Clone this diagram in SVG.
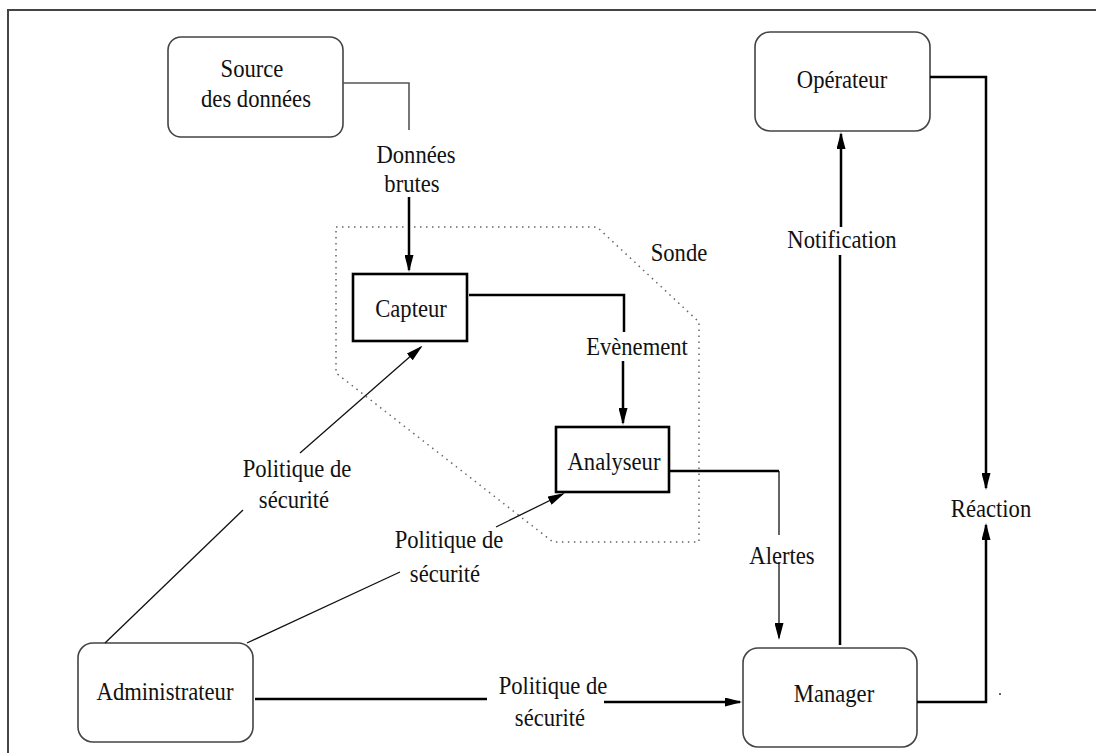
<svg xmlns="http://www.w3.org/2000/svg" width="1096" height="753" viewBox="0 0 1096 753">
<style>
.t{font-family:'Liberation Serif','Tinos','DejaVu Serif','Noto Serif',serif;font-size:26px;fill:#111;text-anchor:middle}
.rb{fill:#fff;stroke:#444;stroke-width:1.6}
.sb{fill:#fff;stroke:#000;stroke-width:2.6}
.k{fill:none;stroke:#000;stroke-width:2.5}
.n{fill:none;stroke:#111;stroke-width:1.3}
.g{fill:none;stroke:#555;stroke-width:1.6}
.a{marker-end:url(#ah)}
</style>
<defs>
<marker id="ah" viewBox="0 0 17 9" refX="15" refY="4.5" markerWidth="17" markerHeight="9" markerUnits="userSpaceOnUse" orient="auto">
<path d="M0,0 L17,4.5 L0,9 z" fill="#000"/>
</marker>
</defs>
<rect width="1096" height="753" fill="#fff"/>
<path d="M8,753 L8,10 L1096,10" fill="none" stroke="#444" stroke-width="2"/>

<g id="sonde">
<polygon points="336,227 597,227 699,322 699,542 553,542 336,373" fill="none" stroke="#666" stroke-width="1.5" stroke-dasharray="1.5 4.5"/>
<text class="t" font-family="Liberation Serif, serif" transform="translate(679,261) scale(0.87,1)">Sonde</text>
</g>

<g id="source">
<rect class="rb" x="168" y="37" width="175" height="100" rx="13"/>
<text class="t" transform="translate(252,77) scale(0.87,1)">Source</text>
<text class="t" transform="translate(256,107) scale(0.87,1)">des données</text>
</g>

<g id="operateur">
<rect class="rb" x="755" y="32" width="175" height="99" rx="15"/>
<text class="t" transform="translate(842,88) scale(0.87,1)">Opérateur</text>
</g>

<g id="capteur">
<rect class="sb" x="353" y="274" width="114" height="67"/>
<text class="t" transform="translate(411,317) scale(0.87,1)">Capteur</text>
</g>

<g id="analyseur">
<rect class="sb" x="556" y="427" width="113" height="65"/>
<text class="t" transform="translate(614,470) scale(0.87,1)">Analyseur</text>
</g>

<g id="administrateur">
<rect class="rb" x="78" y="643" width="175" height="99" rx="15"/>
<text class="t" transform="translate(165,700) scale(0.87,1)">Administrateur</text>
</g>

<g id="manager">
<rect class="rb" x="743" y="648" width="174" height="99" rx="15"/>
<text class="t" transform="translate(834,702) scale(0.87,1)">Manager</text>
</g>

<g id="connectors">
<path class="g" d="M343,83 L409,83 L409,130"/>
<path class="k a" d="M409,197 L409,270"/>
<text class="t" transform="translate(416,163) scale(0.87,1)">Données</text>
<text class="t" transform="translate(412,192) scale(0.87,1)">brutes</text>

<path class="k" d="M469,295 L624,295 L624,332"/>
<path class="k a" d="M623,361 L623,423"/>
<text class="t" transform="translate(637,355) scale(0.87,1)">Evènement</text>

<path class="k" d="M670,471 L779,471"/>
<path class="n" d="M779,471 L779,535"/>
<path class="n a" d="M779,562 L779,638"/>
<text class="t" transform="translate(782,564) scale(0.87,1)">Alertes</text>

<path class="n" d="M105,643 L243,510"/>
<path class="n a" d="M300,453 L421,347"/>
<text class="t" transform="translate(297,477) scale(0.87,1)">Politique de</text>
<text class="t" transform="translate(294,508) scale(0.87,1)">sécurité</text>

<path class="n" d="M247,643 L400,572"/>
<path class="n a" d="M496,527 L563,494"/>
<text class="t" transform="translate(449,548) scale(0.87,1)">Politique de</text>
<text class="t" transform="translate(445,582) scale(0.87,1)">sécurité</text>

<path class="k" d="M255,699 L487,699"/>
<path class="k a" d="M604,702 L740,702"/>
<text class="t" transform="translate(553,694) scale(0.87,1)">Politique de</text>
<text class="t" transform="translate(550,726) scale(0.87,1)">sécurité</text>

<path class="k" d="M840,645 L840,255"/>
<path class="k a" d="M841,227 L841,134"/>
<text class="t" transform="translate(842,248) scale(0.87,1)">Notification</text>

<path class="k a" d="M930,77 L986,77 L986,488"/>
<path class="k a" d="M917,702 L986,702 L986,525"/>
<text class="t" transform="translate(991,517) scale(0.87,1)">Réaction</text>
<circle cx="1000" cy="694" r="1" fill="#333"/>
</g>
</svg>
